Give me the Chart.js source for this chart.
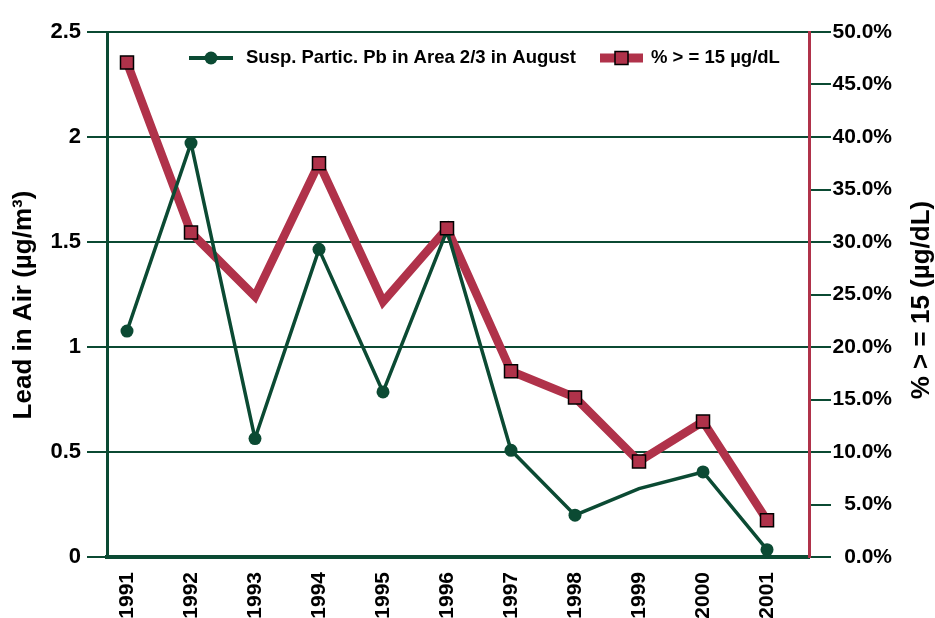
<!DOCTYPE html>
<html>
<head>
<meta charset="utf-8">
<script src="https://cdn.jsdelivr.net/npm/chart.js@4"></script>
<style>
  html, body { margin: 0; padding: 0; background: #fff; }
  #wrap { width: 935px; height: 618px; }
</style>
</head>
<body>
<div id="wrap"><canvas id="chart-lead"></canvas></div>
<script>
// ---------------------------------------------
// Data
// ---------------------------------------------

const years = [1991, 1992, 1993, 1994, 1995, 1996, 1997, 1998, 1999, 2000, 2001];
const leadInAir = [1.076, 1.971, 0.564, 1.465, 0.786, 1.555, 0.508, 0.199, 0.326, 0.405, 0.035];
const pctOver15 = [47.1, 30.9, 24.8, 37.5, 24.3, 31.3, 17.7, 15.2, 9.1, 12.9, 3.5];

// marker shown or not, per year (the original skips a few)
const leadMarker = [1, 1, 1, 1, 1, 1, 1, 1, 0, 1, 1];
const pctMarker = [1, 1, 0, 1, 0, 1, 1, 1, 1, 1, 1];

const leftTicks = [0, 0.5, 1, 1.5, 2, 2.5];
const rightTicks = [0, 5, 10, 15, 20, 25, 30, 35, 40, 45, 50];

const leadLabel = "Susp. Partic. Pb in Area 2/3 in August";
const pctLabel = "% > = 15 \u00b5g/dL";
const leftTitle = "Lead in Air (\u00b5g/m\u00b3)";
const rightTitle = "% > = 15 (\u00b5g/dL)";

// ---------------------------------------------
// Style
// ---------------------------------------------

const GREEN = "#0b4a33";
const RED = "#b0324a";
const FONT = "'Liberation Sans', Arial, sans-serif";

const toXY = arr => arr.map((v, i) => ({ x: years[i], y: v }));

// ---------------------------------------------
// Plugins: axis titles + in-plot legend
// ---------------------------------------------

const extrasPlugin = {
  id: "extras",
  beforeDatasetsDraw(chart) {
    // sharp joins get bevelled, wide ones stay pointed
    chart.ctx.miterLimit = 2;
  },
  afterDraw(chart) {
    const ctx = chart.ctx;
    ctx.save();

    // axis titles, both read bottom to top
    ctx.fillStyle = "#000";
    ctx.font = "bold 26px " + FONT;
    ctx.textAlign = "center";
    ctx.textBaseline = "middle";
    [[24, 305, leftTitle], [922, 300, rightTitle]].forEach(([x, y, t]) => {
      ctx.save();
      ctx.translate(x, y);
      ctx.rotate(-Math.PI / 2);
      ctx.fillText(t, 0, 0);
      ctx.restore();
    });

    // legend
    const ly = 58;
    ctx.lineCap = "butt";
    ctx.strokeStyle = GREEN;
    ctx.lineWidth = 4;
    ctx.beginPath(); ctx.moveTo(189, ly); ctx.lineTo(233, ly); ctx.stroke();
    ctx.fillStyle = GREEN;
    ctx.beginPath(); ctx.arc(211, ly, 6.5, 0, Math.PI * 2); ctx.fill();

    ctx.strokeStyle = RED;
    ctx.lineWidth = 9;
    ctx.beginPath(); ctx.moveTo(600, ly); ctx.lineTo(643, ly); ctx.stroke();
    ctx.fillStyle = RED;
    ctx.fillRect(615, ly - 6.5, 13, 13);
    ctx.strokeStyle = "#000";
    ctx.lineWidth = 1.5;
    ctx.strokeRect(615, ly - 6.5, 13, 13);

    ctx.fillStyle = "#000";
    ctx.font = "bold 18.5px " + FONT;
    ctx.textAlign = "left";
    ctx.fillText(leadLabel, 246, ly);
    ctx.fillText(pctLabel, 651, ly);

    ctx.restore();
  }
};

// ---------------------------------------------
// Build chart
// ---------------------------------------------

new Chart(document.getElementById("chart-lead"), {
  type: "line",
  data: {
    datasets: [
      {
        label: pctLabel + " markers",
        data: toXY(pctOver15),
        yAxisID: "y1",
        showLine: false,
        pointStyle: "rect",
        pointRadius: pctMarker.map(m => m ? 9.2 : 0),
        pointBackgroundColor: RED,
        pointBorderColor: "#000",
        pointBorderWidth: 1.5,
        order: 1
      },
      {
        label: leadLabel,
        data: toXY(leadInAir),
        yAxisID: "y",
        borderColor: GREEN,
        borderWidth: 3.5,
        borderJoinStyle: "miter",
        pointStyle: "circle",
        pointRadius: leadMarker.map(m => m ? 6.5 : 0),
        pointBackgroundColor: GREEN,
        pointBorderWidth: 0,
        tension: 0,
        order: 2
      },
      {
        label: pctLabel,
        data: toXY(pctOver15),
        yAxisID: "y1",
        borderColor: RED,
        borderWidth: 8.5,
        borderJoinStyle: "miter",
        pointRadius: 0,
        tension: 0,
        order: 3
      }
    ]
  },
  options: {
    responsive: true,
    maintainAspectRatio: false,
    animation: false,
    layout: { padding: { top: 32, left: 0, right: 43, bottom: 0 } },
    plugins: {
      legend: { display: false },
      tooltip: { enabled: false }
    },
    scales: {
      x: {
        type: "linear",
        min: 1990.6875,
        max: 2001.656,
        afterBuildTicks: s => { s.ticks = years.map(v => ({ value: v })); },
        afterFit: s => { s.height = 61; },
        grid: { display: false },
        border: { display: true, color: GREEN, width: 4 },
        ticks: {
          minRotation: 90,
          maxRotation: 90,
          padding: 7,
          color: "#000",
          font: { family: FONT, weight: "bold", size: 21 },
          callback: v => String(v)
        }
      },
      y: {
        position: "left",
        min: 0,
        max: 2.5,
        afterBuildTicks: s => { s.ticks = leftTicks.map(v => ({ value: v })); },
        afterFit: s => { s.width = 107; },
        grid: { color: GREEN, lineWidth: 2, tickLength: 20, drawTicks: true },
        border: { display: true, color: GREEN, width: 3 },
        ticks: {
          padding: 6,
          color: "#000",
          font: { family: FONT, weight: "bold", size: 22 },
          callback: v => String(v)
        }
      },
      y1: {
        position: "right",
        min: 0,
        max: 50,
        afterBuildTicks: s => { s.ticks = rightTicks.map(v => ({ value: v })); },
        afterFit: s => { s.width = 83; },
        grid: { drawOnChartArea: false, color: GREEN, lineWidth: 2, tickLength: 22 },
        border: { display: true, color: RED, width: 3 },
        ticks: {
          padding: 1,
          crossAlign: "far",
          color: "#000",
          font: { family: FONT, weight: "bold", size: 21 },
          callback: v => v.toFixed(1) + "%"
        }
      }
    }
  },
  plugins: [extrasPlugin]
});
</script>
</body>
</html>
